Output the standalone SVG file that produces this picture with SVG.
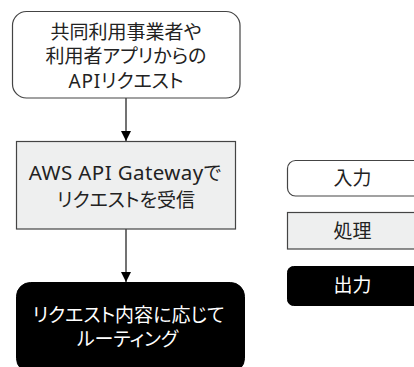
<svg xmlns="http://www.w3.org/2000/svg" width="414" height="367" viewBox="0 0 414 367">
<defs>
<style>
.t{font-family:"Noto Sans","Noto Sans CJK JP",sans-serif;font-size:19px;font-weight:400;font-feature-settings:"palt";text-anchor:middle;fill:#222}
.l{font-size:20.5px;letter-spacing:0.4px}
.a{letter-spacing:0.8px}
.w{fill:#fff}
.in{fill:#fff;stroke:#444;stroke-width:1.2}
.pr{fill:#eeefef;stroke:#444;stroke-width:1.2}
.out{fill:#000;stroke:#000}
.ln{stroke:#444;stroke-width:1.5;fill:none}
</style>
<marker id="ah" viewBox="0 0 10 10" refX="10" refY="5" markerWidth="10" markerHeight="10" markerUnits="userSpaceOnUse" orient="auto">
<path d="M0,0 L10,5 L0,10 Z" fill="#000"/>
</marker>
</defs>
<rect width="414" height="367" fill="#fff"/>
<g id="connectors">
<line class="ln" x1="126" y1="98" x2="126" y2="141" marker-end="url(#ah)"/>
<line class="ln" x1="126" y1="229" x2="126" y2="282" marker-end="url(#ah)"/>
</g>
<g id="node-request">
<rect class="in" x="12.5" y="11.5" width="227.5" height="86.5" rx="14"/>
<text class="t" x="126" y="38.5">共同利用事業者や</text>
<text class="t" x="126" y="63">利用者アプリからの</text>
<text class="t" x="126" y="88"><tspan class="a">API</tspan>リクエスト</text>
</g>
<g id="node-gateway">
<rect class="pr" x="16.5" y="141.5" width="219" height="87.5"/>
<text class="t" x="125" y="180"><tspan class="l">AWS API Gateway</tspan>で</text>
<text class="t" x="126" y="207">リクエストを受信</text>
</g>
<g id="node-routing">
<rect class="out" x="16.5" y="282.5" width="228" height="90" rx="14"/>
<text class="t w" x="128.5" y="322">リクエスト内容に応じて</text>
<text class="t w" x="127.5" y="346">ルーティング</text>
</g>
<g id="legend-input">
<rect class="in" x="287.5" y="160.5" width="140" height="35.5" rx="8"/>
<text class="t" x="352.5" y="185">入力</text>
</g>
<g id="legend-process">
<rect class="pr" x="287.5" y="212.5" width="140" height="36.5"/>
<text class="t" x="352.5" y="238">処理</text>
</g>
<g id="legend-output">
<rect class="out" x="287.5" y="266.5" width="140" height="39" rx="6"/>
<text class="t w" x="352.5" y="292">出力</text>
</g>
</svg>
